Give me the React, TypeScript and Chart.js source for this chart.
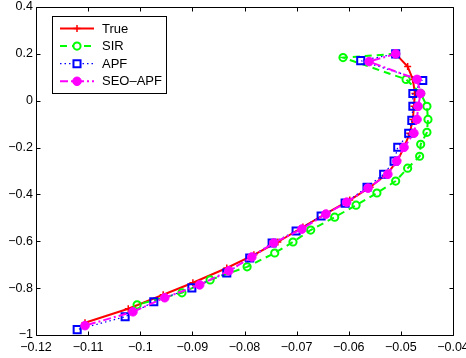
import React, { useEffect, useRef } from 'react';
import { Chart, registerables } from 'chart.js';
Chart.register(...registerables);

const trueX = [-0.0510, -0.0487, -0.0477, -0.0473, -0.0475, -0.0477, -0.0483, -0.0494, -0.0506, -0.0525, -0.0559, -0.0598, -0.0642, -0.0688, -0.0736, -0.0782, -0.0834, -0.0899, -0.0956, -0.1023, -0.1106];
const trueY = [0.200, 0.146, 0.091, 0.031, -0.024, -0.080, -0.139, -0.199, -0.254, -0.309, -0.369, -0.424, -0.480, -0.539, -0.603, -0.658, -0.714, -0.777, -0.828, -0.888, -0.948];

const sirX = [-0.0510, -0.0611, -0.0490, -0.0462, -0.0450, -0.0448, -0.0450, -0.0462, -0.0464, -0.0487, -0.0510, -0.0546, -0.0586, -0.0627, -0.0673, -0.0707, -0.0742, -0.0795, -0.0866, -0.0920, -0.1006];
const sirY = [0.200, 0.184, 0.091, 0.031, -0.024, -0.080, -0.135, -0.186, -0.237, -0.288, -0.343, -0.394, -0.446, -0.497, -0.552, -0.603, -0.650, -0.709, -0.765, -0.820, -0.871];

const apfX = [-0.0510, -0.0577, -0.0458, -0.0477, -0.0477, -0.0479, -0.0485, -0.0506, -0.0513, -0.0533, -0.0565, -0.0607, -0.0653, -0.0701, -0.0747, -0.0790, -0.0834, -0.0901, -0.0974, -0.1029, -0.1121];
const apfY = [0.200, 0.171, 0.086, 0.031, -0.024, -0.084, -0.139, -0.199, -0.258, -0.314, -0.369, -0.437, -0.492, -0.556, -0.607, -0.671, -0.735, -0.799, -0.858, -0.922, -0.977];

const seoX = [-0.0510, -0.0561, -0.0469, -0.0462, -0.0467, -0.0469, -0.0475, -0.0494, -0.0508, -0.0525, -0.0563, -0.0604, -0.0644, -0.0690, -0.0744, -0.0786, -0.0830, -0.0886, -0.0953, -0.1014, -0.1106];
const seoY = [0.200, 0.167, 0.091, 0.031, -0.024, -0.080, -0.139, -0.199, -0.258, -0.314, -0.373, -0.433, -0.484, -0.548, -0.607, -0.667, -0.726, -0.786, -0.841, -0.901, -0.960];

const seriesNames = ['True', 'SIR', 'APF', 'SEO\u2013APF'];

const xMin = -0.12, xMax = -0.04, xStep = 0.01;
const yMin = -1, yMax = 0.4, yStep = 0.2;

const FONT = '"Liberation Sans", Arial, Helvetica, sans-serif';

const zip = (xs: number[], ys: number[]) => xs.map((x, i) => ({ x, y: ys[i] }));

const fmt = (v: number) => {
  const r = Math.round(v * 100) / 100;
  if (Math.abs(r) < 1e-9) return '0';
  return String(r).replace('-', '\u2212');
};

type Sty = { color: string; dash: number[]; lw: number; marker: string; r: number; mlw: number; fill: boolean };
const styles: Sty[] = [
  { color: '#ff0000', dash: [], lw: 2, marker: 'cross', r: 3.5, mlw: 1.5, fill: false },
  { color: '#00ff00', dash: [7, 5], lw: 2, marker: 'circle', r: 3.6, mlw: 2, fill: false },
  { color: '#0000ff', dash: [1.5, 3], lw: 1.2, marker: 'rect', r: 5, mlw: 2, fill: false },
  { color: '#ff00ff', dash: [8, 3, 2, 3], lw: 2, marker: 'circle', r: 4.3, mlw: 1, fill: true },
];

function drawMarker(ctx: CanvasRenderingContext2D, s: Sty, x: number, y: number) {
  ctx.save();
  ctx.setLineDash([]);
  ctx.strokeStyle = s.color;
  ctx.fillStyle = s.color;
  ctx.lineWidth = s.mlw;
  ctx.beginPath();
  if (s.marker === 'cross') {
    ctx.moveTo(x - s.r, y); ctx.lineTo(x + s.r, y);
    ctx.moveTo(x, y - s.r); ctx.lineTo(x, y + s.r);
    ctx.stroke();
  } else if (s.marker === 'rect') {
    const h = s.r * Math.SQRT1_2;
    ctx.rect(x - h, y - h, 2 * h, 2 * h);
    ctx.fillStyle = '#ffffff';
    ctx.fill();
    ctx.stroke();
  } else {
    ctx.arc(x, y, s.r, 0, Math.PI * 2);
    if (s.fill) ctx.fill(); else { ctx.fillStyle = '#ffffff'; ctx.fill(); }
    ctx.stroke();
  }
  ctx.restore();
}

const framePlugin = {
  id: 'frame',
  afterDatasetsDraw(chart: any) {
    const { ctx, chartArea: a, scales } = chart;
    ctx.save();
    ctx.strokeStyle = '#000';
    ctx.lineWidth = 1;
    ctx.setLineDash([]);
    const L = Math.round(a.left) + 0.5, R = Math.round(a.right) + 0.5;
    const T = Math.round(a.top) + 0.5, B = Math.round(a.bottom) + 0.5;
    ctx.beginPath();
    ctx.rect(L, T, R - L, B - T);
    ctx.stroke();
    const tl = 4;
    ctx.beginPath();
    scales.x.ticks.forEach((t: any) => {
      const px = Math.round(scales.x.getPixelForValue(t.value)) + 0.5;
      ctx.moveTo(px, B); ctx.lineTo(px, B - tl);
      ctx.moveTo(px, T); ctx.lineTo(px, T + tl);
    });
    scales.y.ticks.forEach((t: any) => {
      const py = Math.round(scales.y.getPixelForValue(t.value)) + 0.5;
      ctx.moveTo(L, py); ctx.lineTo(L + tl, py);
      ctx.moveTo(R, py); ctx.lineTo(R - tl, py);
    });
    ctx.stroke();
    ctx.restore();
  },
  afterDraw(chart: any) {
    const { ctx } = chart;
    ctx.save();
    const bx = 52.5, by = 16.5, bw = 114, bh = 77;
    ctx.fillStyle = '#fff';
    ctx.fillRect(bx, by, bw, bh);
    ctx.strokeStyle = '#000';
    ctx.lineWidth = 1;
    ctx.strokeRect(bx, by, bw, bh);
    ctx.font = `13px ${FONT}`;
    ctx.textBaseline = 'middle';
    ctx.textAlign = 'left';
    seriesNames.forEach((name, i) => {
      const s = styles[i];
      const y = 28.5 + i * 17.6;
      ctx.save();
      ctx.strokeStyle = s.color;
      ctx.lineWidth = s.lw;
      ctx.setLineDash(s.dash);
      ctx.beginPath();
      ctx.moveTo(60, y); ctx.lineTo(94, y);
      ctx.stroke();
      ctx.restore();
      drawMarker(ctx, s, 77, y);
      ctx.fillStyle = '#000';
      ctx.fillText(name, 102, y + 0.5);
    });
    ctx.restore();
  },
};

export default function App() {
  const ref = useRef<HTMLCanvasElement | null>(null);
  useEffect(() => {
    if (!ref.current) return;
    const allX = [trueX, sirX, apfX, seoX];
    const allY = [trueY, sirY, apfY, seoY];
    const datasets = seriesNames.map((name, i) => {
      const s = styles[i];
      return {
        label: name,
        data: zip(allX[i], allY[i]),
        showLine: true,
        borderColor: s.color,
        backgroundColor: s.fill ? s.color : '#ffffff',
        borderWidth: s.lw,
        borderDash: s.dash,
        pointStyle: s.marker,
        pointRadius: s.r,
        pointBorderWidth: s.mlw,
        pointBorderColor: s.color,
        pointBackgroundColor: s.fill ? s.color : 'rgba(0,0,0,0)',
        tension: 0,
        order: 3 - i,
        clip: false as any,
      };
    });
    const chart = new Chart(ref.current, {
      type: 'scatter',
      data: { datasets: datasets as any },
      options: {
        animation: false,
        responsive: false,
        devicePixelRatio: 1,
        layout: { padding: { left: 0, right: 13, top: 6, bottom: 0 } },
        plugins: { legend: { display: false }, tooltip: { enabled: false } },
        scales: {
          x: {
            type: 'linear', min: xMin, max: xMax,
            grid: { display: false, drawTicks: false },
            border: { display: false },
            ticks: {
              stepSize: xStep, autoSkip: false, maxRotation: 0, padding: 5,
              color: '#000', font: { family: FONT, size: 12.5 },
              callback: (v: any) => fmt(Number(v)),
            },
            afterFit: (s: any) => { s.height = 23; s.paddingLeft = 0; s.paddingRight = 0; },
          },
          y: {
            type: 'linear', min: yMin, max: yMax,
            grid: { display: false, drawTicks: false },
            border: { display: false },
            ticks: {
              stepSize: yStep, autoSkip: false, padding: 3,
              color: '#000', font: { family: FONT, size: 12.5 },
              callback: (v: any) => fmt(Number(v)),
            },
            afterFit: (s: any) => { s.width = 36; s.paddingTop = 0; s.paddingBottom = 0; },
          },
        },
      },
      plugins: [framePlugin],
    });
    return () => chart.destroy();
  }, []);
  return (
    <div style={{ position: 'fixed', left: 0, top: 0, width: 466, height: 358, background: '#fff' }}>
      <canvas ref={ref} width={466} height={358} style={{ width: 466, height: 358, display: 'block' }} />
    </div>
  );
}
